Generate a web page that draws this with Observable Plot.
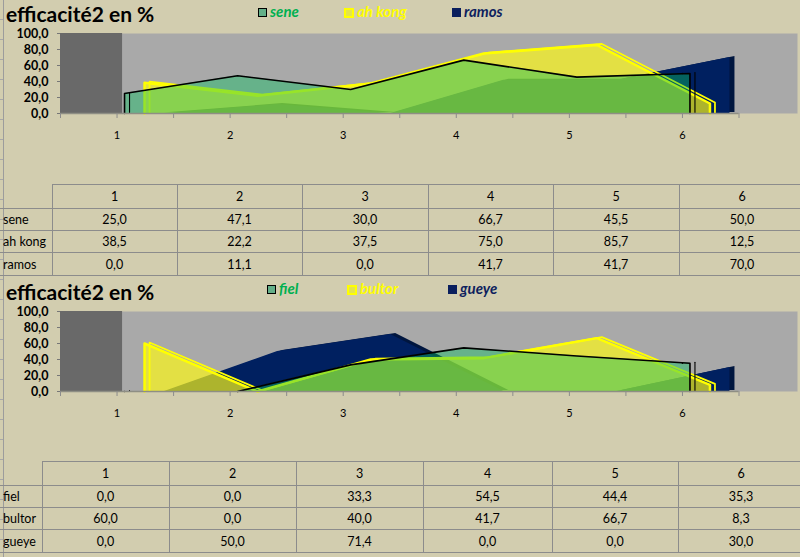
<!DOCTYPE html>
<html><head><meta charset="utf-8">
<script src="https://cdn.jsdelivr.net/npm/d3@7"></script>
<script src="https://cdn.jsdelivr.net/npm/@observablehq/plot@0.6"></script>
<style>
body{margin:0;background:#D2CDAF;}
#page{position:relative;width:800px;height:557px;overflow:hidden;background:#D2CDAF;font-family:Lato,"Open Sans",sans-serif;}
.title{position:absolute;left:6px;font-weight:700;font-size:21px;line-height:1;color:#000;white-space:nowrap;}
.legtext{position:absolute;font-weight:700;font-style:italic;font-size:15px;line-height:1;white-space:nowrap;}
.sw{position:absolute;box-sizing:border-box;}
.chart{position:absolute;left:0;}
table{position:absolute;left:0;border-collapse:collapse;font-size:12.5px;table-layout:fixed;font-family:Lato,"Open Sans",sans-serif;color:#000;}
td{border:1px solid #8c8c8c;text-align:center;padding:0;}
td.lab{text-align:left;padding-left:3px;border-left:none;}
td.corner{border-top:none;border-left:none;}
.grid{position:absolute;left:0;top:0;width:3px;height:557px;border-right:1px solid #9c9c9c;
  background:repeating-linear-gradient(to bottom,transparent 0,transparent 19px,#a8a8a8 19px,#a8a8a8 20px);}
</style></head><body><div id="page"><div class="grid"></div></div>
<script>
// ---- data ----
const categories = [1, 2, 3, 4, 5, 6];
const yTicks = [0, 20, 40, 60, 80, 100];
const title = "efficacité2 en %";

const topNames = ["sene", "ah kong", "ramos"];
const sene   = [25.0, 47.1, 30.0, 66.7, 45.5, 50.0];
const ahKong = [38.5, 22.2, 37.5, 75.0, 85.7, 12.5];
const ramos  = [0.0, 11.1, 0.0, 41.7, 41.7, 70.0];

const bottomNames = ["fiel", "bultor", "gueye"];
const fiel   = [0.0, 0.0, 33.3, 54.5, 44.4, 35.3];
const bultor = [60.0, 0.0, 40.0, 41.7, 66.7, 8.3];
const gueye  = [0.0, 50.0, 71.4, 0.0, 0.0, 30.0];

// ---- styles per depth (front, middle, back) ----
const depth = [
  {fill: "rgb(10,190,95)", op: 0.42, stroke: "#000", sw: "#63AF89", swb: "1px solid #000", text: "#00B050", dx: 7.5, lw: 1.6, backTop: false},
  {fill: "rgb(255,250,20)", op: 0.68, stroke: "#FFFF00", sw: "#E4E44C", swb: "2px solid #FFFF00", text: "#FFFF00", dx: 27.5, lw: 2.5, backTop: true},
  {fill: "#002060", op: 1, stroke: null, sw: "#0A1F5E", swb: "1px solid #0A1F5E", text: "#0E1F5E", dx: 47.5, lw: 0}
];

const page = document.getElementById("page");
const fmt = d => d.toFixed(1).replace(".", ",");

function el(tag, cls, css, text) {
  const e = document.createElement(tag);
  if (cls) e.className = cls;
  Object.assign(e.style, css || {});
  if (text != null) e.textContent = text;
  page.appendChild(e);
  return e;
}

function chart(values) {
  const n = categories.length;
  const rows = v => categories.map((c, i) => ({c, v: v[i]}));
  // outline: up the first edge, along the top, down the last edge; flat runs on the floor are left undrawn
  const outline = v => {
    const pts = [{c: categories[0], v: 0}, ...rows(v), {c: categories[n - 1], v: 0}];
    const out = [pts[0]];
    for (let i = 1; i < pts.length; i++) {
      if (pts[i - 1].v === 0 && pts[i].v === 0) out.push({c: (pts[i - 1].c + pts[i].c) / 2, v: NaN});
      out.push(pts[i]);
    }
    return out;
  };
  const ends = v => [
    {c: categories[0], v: 0, g: 0}, {c: categories[0], v: v[0], g: 0},
    {c: categories[n - 1], v: v[n - 1], g: 1}, {c: categories[n - 1], v: 0, g: 1}
  ];
  const half = d3.range(categories[0] - 0.5, categories[n - 1] + 0.51, 0.5);
  const marks = [
    Plot.frame({fill: "#A9A9A9", stroke: "none"}),
    Plot.rect([0], {x1: 0.5, x2: 1.049, y1: 0, y2: 100, fill: "#696969"})
  ];
  // back series (opaque navy) with extrusion
  const b = values[2], s2 = depth[2];
  marks.push(Plot.areaY(rows(b), {x: "c", y: "v", fill: "#00163F", dx: s2.dx + 5, dy: -1}));
  marks.push(Plot.areaY(rows(b), {x: "c", y: "v", fill: s2.fill, dx: s2.dx}));
  // middle and front series (translucent)
  for (const k of [1, 0]) {
    const v = values[k], s = depth[k];
    marks.push(Plot.areaY(rows(v), {x: "c", y: "v", fill: s.fill, fillOpacity: s.op, dx: s.dx}));
    if (s.backTop) {
      marks.push(Plot.line(outline(v), {x: "c", y: "v", stroke: s.stroke, strokeWidth: s.lw * 0.7, dx: s.dx + 5, dy: -1}));
    } else {
      marks.push(Plot.line(ends(v).filter(d => d.v > 0 || true), {x: "c", y: "v", z: "g", stroke: s.stroke, strokeWidth: 1.1, dx: s.dx + 5, dy: -1}));
      marks.push(Plot.line(outline(v).slice(-2, -1).concat([]), {x: "c", y: "v", stroke: s.stroke, strokeWidth: s.lw}));
    }
    marks.push(Plot.line(outline(v), {x: "c", y: "v", stroke: s.stroke, strokeWidth: s.lw, dx: s.dx}));
  }
  marks.push(Plot.ruleY([0], {x1: half[0], x2: half[half.length - 1], stroke: "#8e8e84", strokeWidth: 1.5}));
  marks.push(Plot.axisY({ticks: yTicks, tickSize: 3, tickPadding: 9, tickFormat: fmt, fontWeight: "bold", fontSize: 12.5, stroke: "#777", label: null}));
  marks.push(Plot.axisX({ticks: half, tickSize: 5, tickPadding: 13, stroke: "#8c8c8c", tickFormat: d => Number.isInteger(d) ? String(d) : "", fontSize: 11, label: null}));
  return Plot.plot({
    width: 800, height: 125,
    marginLeft: 60, marginRight: 3, marginTop: 8, marginBottom: 37,
    style: {background: "transparent", overflow: "visible", fontFamily: "Lato, 'Open Sans', sans-serif", color: "#000"},
    x: {domain: [categories[0] - 0.5, categories[n - 1] + 0.5], range: [60, 738.5]},
    y: {domain: [0, 100]},
    marks
  });
}

function legend(names, top, xs) {
  names.forEach((n, i) => {
    const s = depth[i];
    const size = i === 1 ? 10 : 9;
    el("div", "sw", {left: xs[i] + "px", top: (top + (i === 1 ? 3.5 : 4)) + "px", width: size + "px", height: size + "px", background: s.sw, border: s.swb});
    el("div", "legtext", {left: (xs[i] + size + 3) + "px", top: top + "px", color: s.text}, n);
  });
}

function table(names, values, top, widths, heights) {
  const t = document.createElement("table");
  t.style.top = top + "px";
  t.style.width = d3.sum(widths) + "px";
  const cg = document.createElement("colgroup");
  widths.forEach(w => { const c = document.createElement("col"); c.style.width = w + "px"; cg.appendChild(c); });
  t.appendChild(cg);
  const hr = t.insertRow(); hr.style.height = heights[0] + "px";
  const c0 = hr.insertCell(); c0.className = "corner";
  categories.forEach(c => { hr.insertCell().textContent = c; });
  names.forEach((n, i) => {
    const r = t.insertRow(); r.style.height = heights[i + 1] + "px";
    const l = r.insertCell(); l.className = "lab"; l.textContent = n;
    values[i].forEach(v => { r.insertCell().textContent = fmt(v); });
  });
  page.appendChild(t);
}

// ---- top panel ----
el("div", "title", {top: "3px"}, title);
legend(topNames, 4, [258, 344, 452]);
const c1 = chart([sene, ahKong, ramos]);
c1.classList.add("chart"); c1.style.top = "25px"; page.appendChild(c1);
table(topNames, [sene, ahKong, ramos], 184, [52, 125, 125, 126, 125, 126, 126], [24, 22, 22, 23]);

// ---- bottom panel ----
el("div", "title", {top: "281px"}, title);
legend(bottomNames, 281, [267, 347, 448]);
const c2 = chart([fiel, bultor, gueye]);
c2.classList.add("chart"); c2.style.top = "303px"; page.appendChild(c2);
table(bottomNames, [fiel, bultor, gueye], 461, [42, 127, 127, 127, 129, 126, 126], [24, 22, 22, 23]);
</script>
</body></html>
